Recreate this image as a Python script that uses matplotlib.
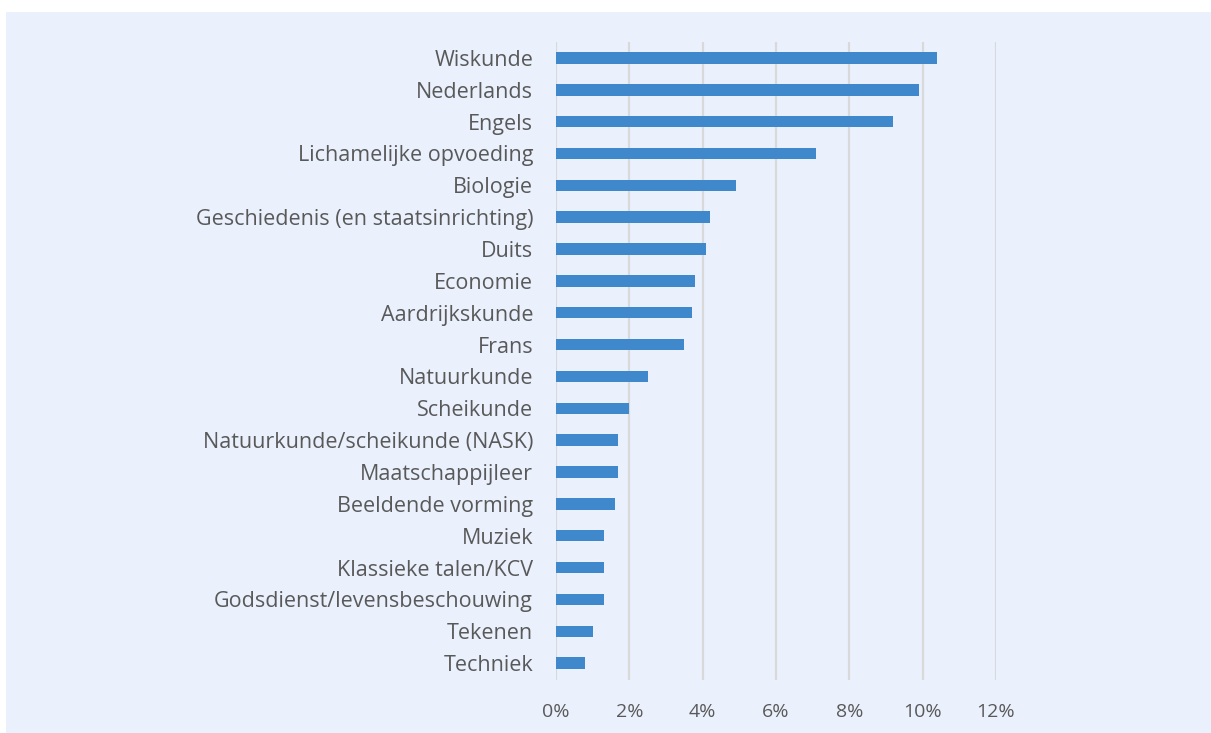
import matplotlib.pyplot as plt
from matplotlib.patches import Rectangle
from matplotlib.ticker import FuncFormatter

# vakken en aandeel (in %), van boven naar beneden
vakken = [
    'Wiskunde', 'Nederlands', 'Engels', 'Lichamelijke opvoeding', 'Biologie',
    'Geschiedenis (en staatsinrichting)', 'Duits', 'Economie', 'Aardrijkskunde',
    'Frans', 'Natuurkunde', 'Scheikunde', 'Natuurkunde/scheikunde (NASK)',
    'Maatschappijleer', 'Beeldende vorming', 'Muziek', 'Klassieke talen/KCV',
    'Godsdienst/levensbeschouwing', 'Tekenen', 'Techniek',
]
aandeel = [10.4, 9.9, 9.2, 7.1, 4.9, 4.2, 4.1, 3.8, 3.7, 3.5,
           2.5, 2.0, 1.7, 1.7, 1.6, 1.3, 1.3, 1.3, 1.0, 0.8]
xticks = [0, 2, 4, 6, 8, 10, 12]

bg = '#EAF1FD'
txt = '#595959'
plt.rcParams['font.family'] = ['Open Sans', 'DejaVu Sans']

fig = plt.figure(figsize=(12.11, 7.33), dpi=100)
fig.patch.set_facecolor('white')
fig.patches.append(Rectangle((6 / 1211, 0), 1, 1 - 12 / 733, transform=fig.transFigure,
                             facecolor=bg, edgecolor='none', zorder=-10))

ax = fig.add_axes([556 / 1211, 1 - 680 / 733, 440 / 1211, 638 / 733])
ax.set_facecolor('none')

pos = list(range(len(vakken)))
ax.barh(pos, aandeel, height=0.36, color='#3F88CC', zorder=3)

ax.set_xlim(0, 12)
ax.set_ylim(len(vakken) - 0.47, -0.50)
ax.set_xticks(xticks)
ax.xaxis.set_major_formatter(FuncFormatter(lambda v, p: f'{v:.0f}%'))
ax.set_yticks(pos)
ax.set_yticklabels(vakken)

ax.grid(axis='x', color='#D9D9D9', linewidth=1.6, zorder=0)
for s in ax.spines.values():
    s.set_visible(False)
ax.tick_params(axis='both', length=0, labelcolor=txt)
ax.tick_params(axis='y', pad=16.5, labelsize=15.5)
ax.tick_params(axis='x', pad=16.5, labelsize=14)

fig.savefig('out.png', dpi=100, facecolor=fig.get_facecolor())
